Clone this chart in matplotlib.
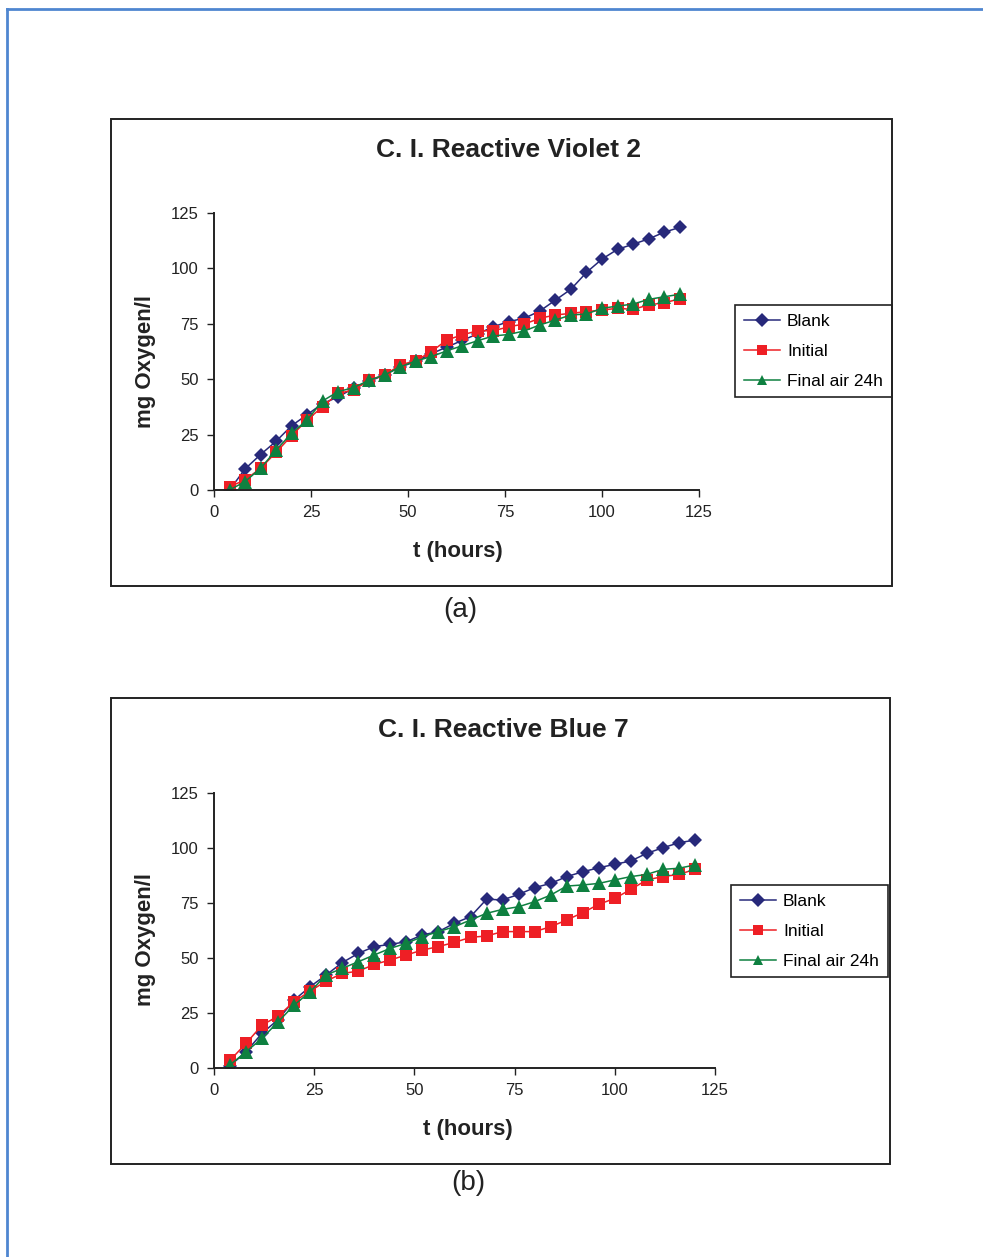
import matplotlib.pyplot as plt
from matplotlib.patches import Rectangle
from matplotlib.lines import Line2D

plt.rcParams['font.family'] = ['Liberation Sans', 'DejaVu Sans']

# sampling times (hours)
t = [4, 8, 12, 16, 20, 24, 28, 32, 36, 40, 44, 48, 52, 56, 60,
     64, 68, 72, 76, 80, 84, 88, 92, 96, 100, 104, 108, 112, 116, 120]

# (a) C. I. Reactive Violet 2
violet_blank = [0, 9.5, 16, 22, 29, 34, 39, 42, 46, 49, 52, 55.5, 58, 61.5, 64.5,
                67.5, 70.5, 73.7, 76, 77.5, 80.8, 85.7, 90.6, 98.2, 104.2, 108.6, 110.9, 113.3, 116.3, 118.5]
violet_initial = [1.5, 4.5, 9.8, 17, 24.5, 31.6, 37.6, 43.6, 45.1, 49.6, 51.9, 56.4, 58.4, 62.4, 67.7,
                  70, 71.9, 71.8, 73.7, 74.9, 77.5, 79, 79.7, 80.5, 81.2, 82, 81.5, 83.5, 84.5, 86.2]
violet_final = [0, 3.8, 9.8, 18, 25.6, 31.6, 40.2, 44.4, 46.2, 49.6, 51.9, 55.6, 58.2, 60.2, 62.8,
                65.1, 67.4, 69.5, 70.2, 71.8, 74.5, 76.7, 79, 79.4, 82, 83, 83.9, 86, 87.2, 88.3]

# (b) C. I. Reactive Blue 7
blue_blank = [1, 7.4, 15.8, 22, 30.9, 37, 42.3, 47.9, 52.1, 55.2, 56.2, 57.4, 60.5, 62, 65.8,
              68.8, 76.7, 76.4, 78.9, 82, 83.9, 87, 89.2, 91, 92.6, 94.1, 97.6, 100.1, 102.4, 103.6]
blue_initial = [3.5, 11.2, 19.5, 23.6, 30.2, 35, 39.5, 43, 44, 47.1, 49.1, 51.4, 53.6, 55.2, 57.1,
                59.4, 60, 62, 62, 62, 64.2, 67.3, 70.6, 74.4, 77.1, 81.2, 85.5, 87, 88, 90.3]
blue_final = [1.4, 7.4, 13.5, 21, 28.6, 34.7, 42.3, 45.3, 48.3, 51.4, 54.4, 56.7, 59.7, 62, 64.2,
              67.3, 70.3, 72.1, 73.3, 75.6, 78.6, 82.7, 83.2, 83.9, 85.5, 87, 88, 90.3, 90.8, 92.3]

ticks = [0, 25, 50, 75, 100, 125]
labels = ['Blank', 'Initial', 'Final air 24h']

W, H = 983, 1257
fig = plt.figure(figsize=(W / 100, H / 100), dpi=100)


def fx(px):
    return px / W


def fy(py):
    return 1 - py / H


# outer blue frame (only left and top edges visible)
fig.add_artist(Line2D([fx(7), fx(7)], [fy(9), 0], color='#4f86d0', lw=2))
fig.add_artist(Line2D([fx(7), 1], [fy(9), fy(9)], color='#4f86d0', lw=2))

panels = [
    dict(box=(111, 119, 892, 586), ax=(214, 213, 699, 490),
         title='C. I. Reactive Violet 2', tpos=(508, 150),
         xl=(458, 551), yl=(145, 362), tag='(a)', tagpos=(460, 610),
         leg=(735, 305), data=(violet_blank, violet_initial, violet_final)),
    dict(box=(111, 698, 890, 1164), ax=(214, 793, 715, 1068),
         title='C. I. Reactive Blue 7', tpos=(503, 730),
         xl=(468, 1129), yl=(145, 940), tag='(b)', tagpos=(468, 1183),
         leg=(731, 885), data=(blue_blank, blue_initial, blue_final)),
]

styles = [
    dict(color='#27297a', marker='D', markersize=7.5),
    dict(color='#ee1f25', marker='s', markersize=8.5),
    dict(color='#0e8040', marker='^', markersize=9.5),
]

for p in panels:
    x0, y0, x1, y1 = p['box']
    fig.add_artist(Rectangle((fx(x0), fy(y1)), fx(x1 - x0), (y1 - y0) / H,
                             transform=fig.transFigure, fill=False,
                             edgecolor='#222222', lw=1.4))
    a0, b0, a1, b1 = p['ax']
    ax = fig.add_axes([fx(a0), fy(b1), fx(a1 - a0), (b1 - b0) / H])
    for ys, st, lab in zip(p['data'], styles, labels):
        ax.plot(t, ys, lw=1.1, markeredgewidth=0, label=lab, **st)
    ax.set_xlim(0, 125)
    ax.set_ylim(0, 125)
    ax.set_xticks(ticks)
    ax.set_yticks(ticks)
    ax.spines['top'].set_visible(False)
    ax.spines['right'].set_visible(False)
    ax.spines['left'].set_linewidth(1.4)
    ax.spines['bottom'].set_linewidth(1.4)
    ax.tick_params(direction='out', length=5, width=1, labelsize=12,
                   colors='#222222', pad=6)
    for s in ax.spines.values():
        s.set_color('#222222')
    ax.patch.set_alpha(0)

    fig.text(fx(p['tpos'][0]), fy(p['tpos'][1]), p['title'], ha='center',
             va='center', fontsize=19, fontweight='bold', color='#222222')
    fig.text(fx(p['xl'][0]), fy(p['xl'][1]), 't (hours)', ha='center',
             va='center', fontsize=16, fontweight='bold', color='#222222')
    fig.text(fx(p['yl'][0]), fy(p['yl'][1]), 'mg Oxygen/l', ha='center',
             va='center', rotation=90, fontsize=16, fontweight='bold',
             color='#222222')
    fig.text(fx(p['tagpos'][0]), fy(p['tagpos'][1]), p['tag'], ha='center',
             va='center', fontsize=20, color='#222222')

    leg = ax.legend(loc='upper left', bbox_to_anchor=(fx(p['leg'][0]), fy(p['leg'][1])),
                    bbox_transform=fig.transFigure, fontsize=12.5, frameon=True,
                    fancybox=False, framealpha=1, edgecolor='#222222',
                    borderpad=0.5, labelspacing=0.85, handlelength=2.1,
                    handletextpad=0.4, borderaxespad=0)
    leg.get_frame().set_linewidth(1.2)
    for h in leg.legend_handles:
        h.set_markersize(7)

fig.savefig('out.png', dpi=100)
